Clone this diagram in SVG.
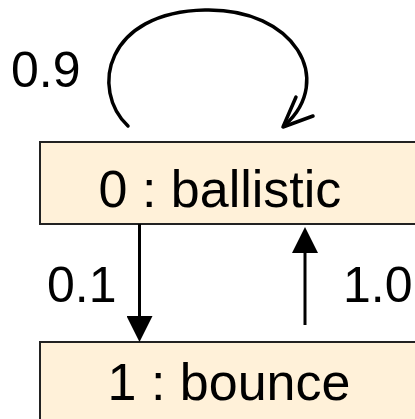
<svg xmlns="http://www.w3.org/2000/svg" width="415" height="419" viewBox="0 0 415 419">
  <style>
    .state { fill: #FFF1D9; stroke: #222; stroke-width: 2; }
    .name { font-family: "Liberation Sans", Arial, sans-serif; font-size: 52px; fill: #000; text-anchor: middle; }
    .prob { font-family: "Liberation Sans", Arial, sans-serif; font-size: 50px; fill: #000; }
    .edge { fill: none; stroke: #000; stroke-width: 3; }
    .loop { fill: none; stroke: #000; stroke-width: 3.5; stroke-linecap: round; stroke-linejoin: round; }
  </style>
  <defs>
    <marker id="head" viewBox="0 0 26 26" markerWidth="26" markerHeight="26" refX="20" refY="13" orient="auto" markerUnits="userSpaceOnUse">
      <path d="M0,0 L26,13 L0,26 Z" fill="#000"/>
    </marker>
  </defs>
  <rect width="415" height="419" fill="#fff"/>

  <g id="state-ballistic">
    <rect class="state" x="40" y="142" width="390" height="82"/>
    <text class="name" x="220" y="207">0 : ballistic</text>
  </g>

  <g id="state-bounce">
    <rect class="state" x="40" y="342" width="390" height="90"/>
    <text class="name" x="229" y="400">1 : bounce</text>
  </g>

  <g id="connectors">
    <!-- self transition on ballistic -->
    <path class="loop" d="M128,126 C90,90 105,12 205,10 C295,8 335,80 285,125"/>
    <path class="loop" d="M296,97 L283,127 L313,116"/>
    <text class="prob" x="11" y="87">0.9</text>
    <!-- ballistic to bounce -->
    <line class="edge" x1="139.5" y1="224" x2="139.5" y2="336" marker-end="url(#head)"/>
    <text class="prob" x="47" y="302">0.1</text>
    <!-- bounce to ballistic -->
    <line class="edge" x1="305" y1="325" x2="305" y2="233" marker-end="url(#head)"/>
    <text class="prob" x="343" y="302">1.0</text>
  </g>
</svg>
